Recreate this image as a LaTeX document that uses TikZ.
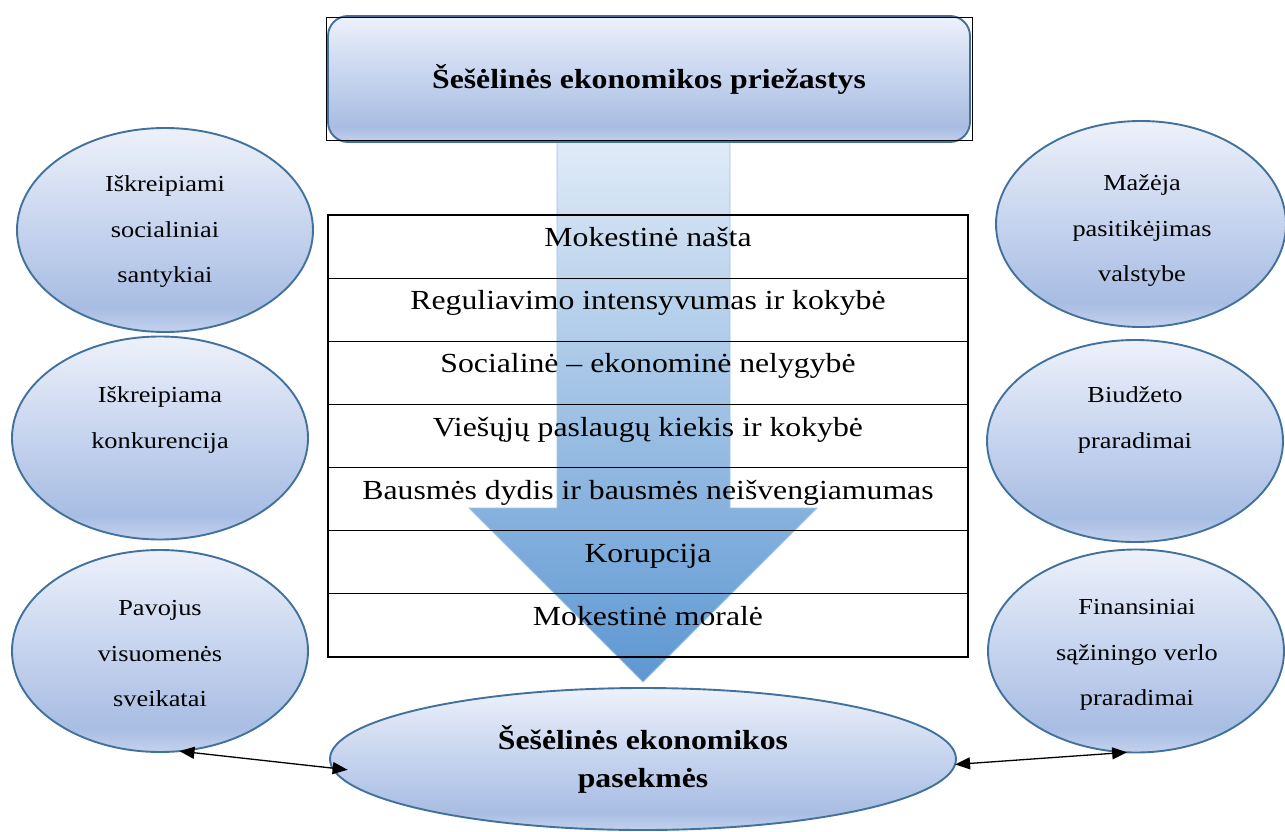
\documentclass[tikz,border=0pt]{standalone}
\usepackage{fontspec}
\setmainfont{Liberation Serif}[FakeStretch=1.15]
\usetikzlibrary{arrows.meta,shapes.geometric,calc}
\definecolor{eborder}{HTML}{41719C}
\definecolor{gtop}{HTML}{EDF1FA}
\definecolor{gmid}{HTML}{C5D3EE}
\definecolor{gbot}{HTML}{A8BDE3}
\definecolor{gedge}{HTML}{C3D1ED}
\definecolor{atop}{HTML}{E0EBF7}
\definecolor{abot}{HTML}{5D97D2}
\definecolor{aedge}{HTML}{9DC3E6}
\definecolor{txt}{HTML}{000000}
\pgfdeclareverticalshading{officeblue}{100bp}{color(0bp)=(gedge); color(25bp)=(gedge); color(31bp)=(gbot); color(50bp)=(gmid); color(75bp)=(gtop); color(100bp)=(gtop)}
\begin{document}
\begin{tikzpicture}[x=1pt,y=-1pt,
  ell/.style={ellipse, draw=eborder, line width=1.9pt, shading=officeblue, inner sep=0pt, outer sep=0pt},
  etext/.style={align=center, text=txt, font=\fontsize{22.9}{45.5}\selectfont, inner sep=0pt},
  rowbox/.style={rectangle, draw=black, line width=1.2pt, minimum width=640pt, minimum height=63.14pt, text height=20pt, text depth=20pt, inner sep=0pt, text=txt, font=\fontsize{27.6}{33}\selectfont},
  topbox/.style={rectangle, rounded corners=20pt, draw=eborder, line width=1.9pt, shading=officeblue, minimum width=642pt, minimum height=126pt, inner sep=0pt, text=txt, font=\bfseries\fontsize{27.6}{38}\selectfont},
  dblarrow/.style={{Triangle[length=15pt,width=12pt]}-{Triangle[length=15pt,width=12pt]}, line width=1.3pt, draw=black}
]
\useasboundingbox (0,0) rectangle (1285,832);

% side ellipses
\node[ell, minimum width=296pt, minimum height=204pt] (L1) at (165,230) {};
\node[ell, minimum width=296pt, minimum height=203pt] (L2) at (160,438) {};
\node[ell, minimum width=296pt, minimum height=202pt] (L3) at (160,651) {};
\node[ell, minimum width=290pt, minimum height=206pt] (R1) at (1141,224) {};
\node[ell, minimum width=296pt, minimum height=202pt] (R2) at (1135,441) {};
\node[ell, minimum width=296pt, minimum height=203pt] (R3) at (1136,651) {};

\node[etext] (L1t) at (165,232) {Iškreipiami\\socialiniai\\santykiai};
\node[etext] (L2t) at (160,420) {Iškreipiama\\konkurencija};
\node[etext] (L3t) at (160,654) {Pavojus\\visuomenės\\sveikatai};
\node[etext] (R1t) at (1142,231) {Mažėja\\pasitikėjimas\\valstybe};
\node[etext] (R2t) at (1135,420) {Biudžeto\\praradimai};
\node[etext] (R3t) at (1137,655) {Finansiniai\\sąžiningo verlo\\praradimai};

% big arrow
\shade[top color=atop, bottom color=abot, draw=aedge, line width=0.8pt]
  (557,140) -- (730,140) -- (730,508) -- (817,508) -- (643,682) -- (469,508) -- (557,508) -- cycle;

% table rows
\node[rowbox] (r1) at (648,246.6) {Mokestinė našta};
\node[rowbox] (r2) at (648,309.7) {Reguliavimo intensyvumas ir kokybė};
\node[rowbox] (r3) at (648,372.9) {Socialinė – ekonominė nelygybė};
\node[rowbox] (r4) at (648,436.0) {Viešųjų paslaugų kiekis ir kokybė};
\node[rowbox] (r5) at (648,499.1) {Bausmės dydis ir bausmės neišvengiamumas};
\node[rowbox] (r6) at (648,562.3) {Korupcija};
\node[rowbox] (r7) at (648,625.4) {Mokestinė moralė};

% top box
\node[topbox] (T) at (649,79) {Šešėlinės ekonomikos priežastys};
\node[draw=black, line width=0.9pt, minimum width=646pt, minimum height=123pt, inner sep=0pt] (Tframe) at (649,78.5) {};

% bottom ellipse
\node[ell, minimum width=626pt, minimum height=142pt, align=center, text=txt, font=\bfseries\fontsize{27.6}{38}\selectfont] (B) at (643,759) {Šešėlinės ekonomikos\\pasekmės};

% connectors
\draw[dblarrow] (L3.-79.5) -- ($(B.182)+(14,0)$);
\draw[dblarrow] (B.-1.7) -- (R3.-95.8);
\end{tikzpicture}
\end{document}
